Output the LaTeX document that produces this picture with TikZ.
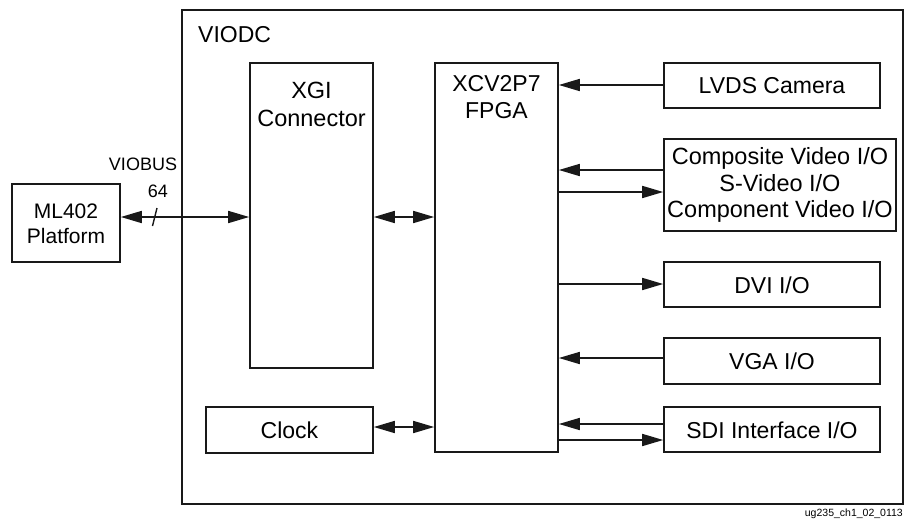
\documentclass[tikz,border=0pt]{standalone}
\usepackage{fontspec}
\setmainfont{Liberation Sans}
\usetikzlibrary{arrows.meta}
\begin{document}
\begin{tikzpicture}[x=1pt,y=-1pt,
  box/.style={draw=black!90, line width=1.6pt, inner sep=0pt, rectangle},
  txt/.style={font=\fontsize{23}{26.5}\selectfont, inner sep=0pt, align=center},
  lbl/.style={font=\fontsize{18}{21}\selectfont, inner sep=0pt},
  arr/.style={line width=1.7pt, draw=black!90, -{Triangle[length=21pt,width=12pt]}},
  darr/.style={line width=1.7pt, draw=black!90, {Triangle[length=21pt,width=12pt]}-{Triangle[length=21pt,width=12pt]}}]
\useasboundingbox (0,0) rectangle (906,523);
% outer VIODC box
\node[box, minimum width=721pt, minimum height=494pt] (viodc) at (542.5,257) {};
\node[txt, anchor=west] (viodclbl) at (198,35) {VIODC};
% ML402
\node[box, minimum width=108pt, minimum height=78pt] (ml402) at (66,223) {};
\node[txt, font=\fontsize{21}{25}\selectfont] (ml402t) at (66,224) {ML402\\Platform};
% XGI
\node[box, minimum width=123pt, minimum height=305pt] (xgi) at (311.5,215.5) {};
\node[txt, font=\fontsize{23.5}{28}\selectfont] (xgit) at (311.5,104) {XGI\\Connector};
% FPGA
\node[box, minimum width=123pt, minimum height=389pt] (fpga) at (496.5,257.5) {};
\node[txt, font=\fontsize{23}{27}\selectfont] (fpgat) at (496.5,97) {XCV2P7\\FPGA};
% Clock
\node[box, minimum width=167pt, minimum height=46pt] (clock) at (289.5,430) {};
\node[txt] (clockt) at (289.5,430) {Clock};
% right boxes
\node[box, minimum width=216pt, minimum height=45pt] (lvds) at (772,85.5) {};
\node[txt] (lvdst) at (772,86) {LVDS Camera};
\node[box, minimum width=232pt, minimum height=92pt] (comp) at (780,185) {};
\node[txt, font=\fontsize{23.5}{26.5}\selectfont] (compt) at (780,185) {Composite Video I/O\\S-Video I/O\\Component Video I/O};
\node[box, minimum width=216pt, minimum height=45pt] (dvi) at (772,284.5) {};
\node[txt] (dvit) at (772,285) {DVI I/O};
\node[box, minimum width=216pt, minimum height=46pt] (vga) at (772,361) {};
\node[txt] (vgat) at (772,361.5) {VGA I/O};
\node[box, minimum width=216pt, minimum height=45pt] (sdi) at (772,429.5) {};
\node[txt] (sdit) at (772,430) {SDI Interface I/O};
% VIOBUS
\draw[darr] (ml402.east |- 0,217) -- (xgi.west |- 0,217);
\draw[line width=1.4pt, draw=black!90] (152.5,226) -- (157,208);
\node[lbl] (viobus) at (143,164) {VIOBUS};
\node[lbl] (w64) at (158,191) {64};
% internal connections
\draw[darr] (xgi.east |- 0,217) -- (fpga.west |- 0,217);
\draw[darr] (clock.east |- 0,427) -- (fpga.west |- 0,427);
\draw[arr] (lvds.west |- 0,85) -- (fpga.east |- 0,85);
\draw[arr] (comp.west |- 0,170) -- (fpga.east |- 0,170);
\draw[arr] (fpga.east |- 0,192) -- (comp.west |- 0,192);
\draw[arr] (fpga.east |- 0,284) -- (dvi.west |- 0,284);
\draw[arr] (vga.west |- 0,358) -- (fpga.east |- 0,358);
\draw[arr] (sdi.west |- 0,424) -- (fpga.east |- 0,424);
\draw[arr] (fpga.east |- 0,440) -- (sdi.west |- 0,440);
% footer
\node[font=\fontsize{10.5}{12}\selectfont, inner sep=0pt, anchor=east] (foot) at (903,514) {ug235\_ch1\_02\_0113};
\end{tikzpicture}
\end{document}
